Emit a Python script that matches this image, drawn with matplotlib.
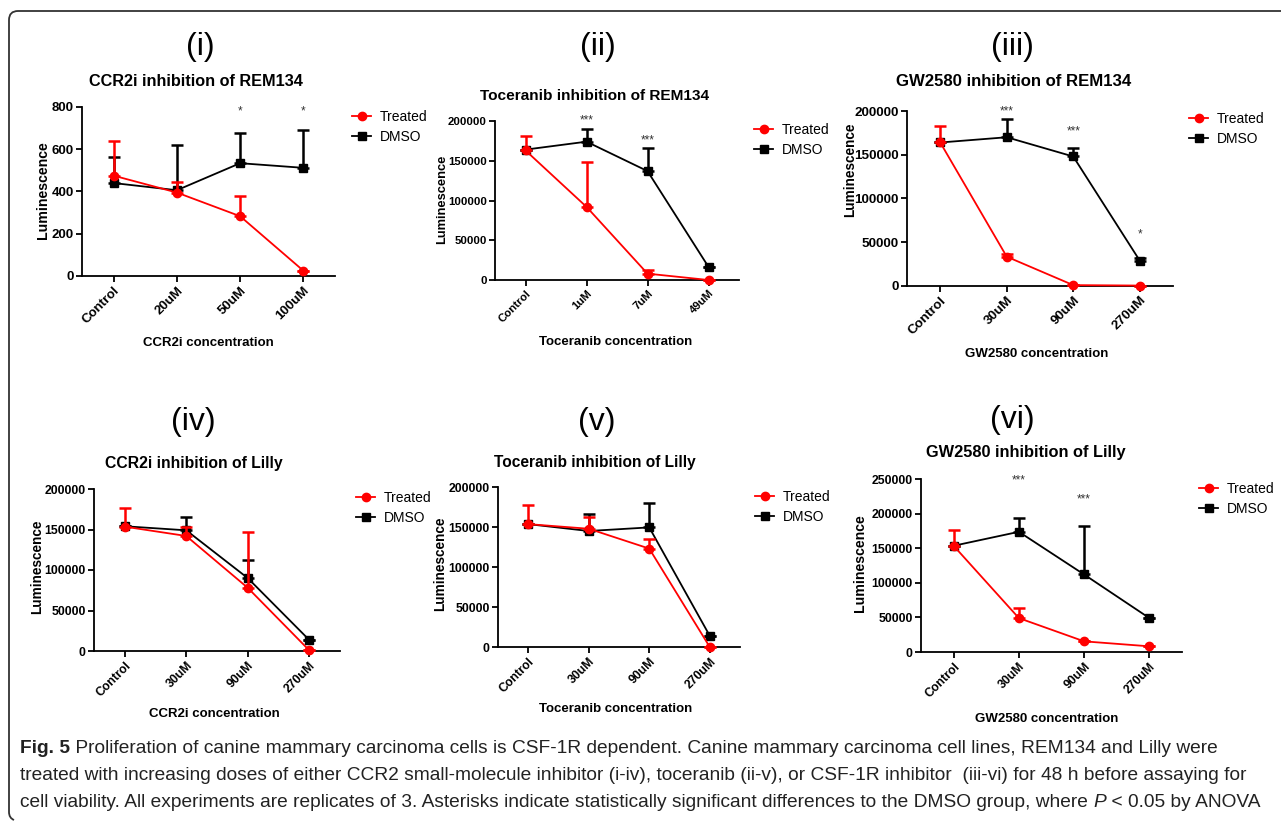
import numpy as np
import matplotlib
matplotlib.use("Agg")
import matplotlib.pyplot as plt
from matplotlib.lines import Line2D
from matplotlib.path import Path
import matplotlib.patches as mpatches

plt.rcParams["font.family"] = ["Liberation Sans", "DejaVu Sans"]

W, H = 1281, 821

# ---- data ----
cats_i = ["Control", "20uM", "50uM", "100uM"]
treated_i = [475, 395, 283, 25]
treated_sd_i = [165, 50, 97, 0]
dmso_i = [440, 406, 534, 512]
dmso_sd_i = [124, 213, 141, 180]
stars_i = ["", "", "*", "*"]
star_y_i = [0, 0, 780, 780]

cats_ii = ["Control", "1uM", "7uM", "49uM"]
treated_ii = [163000, 92000, 8000, 0]
treated_sd_ii = [18000, 56000, 5000, 0]
dmso_ii = [164000, 174000, 137000, 16500]
dmso_sd_ii = [0, 16000, 29500, 0]
stars_ii = ["", "***", "***", ""]
star_y_ii = [0, 201000, 176000, 0]

cats_iii = ["Control", "30uM", "90uM", "270uM"]
treated_iii = [164000, 33500, 1000, 500]
treated_sd_iii = [18500, 3000, 0, 0]
dmso_iii = [164000, 170000, 148000, 29000]
dmso_sd_iii = [0, 20500, 10000, 3000]
stars_iii = ["", "***", "***", "*"]
star_y_iii = [0, 200000, 177000, 59000]

cats_iv = ["Control", "30uM", "90uM", "270uM"]
treated_iv = [153500, 142000, 78000, 800]
treated_sd_iv = [22500, 10700, 68500, 0]
dmso_iv = [154000, 149000, 90000, 13600]
dmso_sd_iv = [0, 17000, 22000, 0]

cats_v = ["Control", "30uM", "90uM", "270uM"]
treated_v = [153600, 147800, 123000, 0]
treated_sd_v = [24000, 15000, 12000, 0]
dmso_v = [153600, 145000, 149500, 14000]
dmso_sd_v = [0, 20700, 30000, 0]

cats_vi = ["Control", "30uM", "90uM", "270uM"]
treated_vi = [153500, 49000, 15400, 8200]
treated_sd_vi = [22500, 15000, 0, 0]
dmso_vi = [153500, 173700, 112000, 49000]
dmso_sd_vi = [0, 19800, 70000, 0]
stars_vi = ["", "***", "***", ""]
star_y_vi = [0, 248500, 220600, 0]

fig = plt.figure(figsize=(W / 100, H / 100), dpi=100)


def fx(px):
    return px / W


def fy(py):
    return 1 - py / H


def panel(box, cats, tr, tr_sd, dm, dm_sd, yticks, numeral, num_xy, title, title_xy,
          xlabel, xlabel_xy, ylabel_xy, leg_xy, stars=None, star_y=None,
          tick_fs=8.8, title_fs=11.3, ylab_fs=9.8):
    left, right, top, bottom = box
    ax = fig.add_axes([fx(left), fy(bottom), fx(right - left), (bottom - top) / H])
    x = np.arange(len(cats))
    ax.errorbar(x, dm, yerr=[np.zeros(len(dm)), dm_sd], color="black", marker="s", ms=6,
                lw=1.3, elinewidth=1.8, capsize=4, capthick=1.8, clip_on=False, zorder=3)
    ax.errorbar(x, tr, yerr=[np.zeros(len(tr)), tr_sd], color="#ff0000", marker="o", ms=6,
                lw=1.3, elinewidth=1.8, capsize=4, capthick=1.8, clip_on=False, zorder=4)
    ax.set_xlim(-0.5, 3.5)
    ax.set_ylim(yticks[0], yticks[-1])
    ax.set_yticks(yticks)
    ax.set_yticklabels([str(t) for t in yticks], fontsize=tick_fs, fontweight="bold")
    ax.set_xticks(x)
    ax.set_xticklabels(cats, rotation=45, ha="right", rotation_mode="anchor",
                       fontsize=tick_fs, fontweight="bold")
    for s in ["top", "right"]:
        ax.spines[s].set_visible(False)
    for s in ["left", "bottom"]:
        ax.spines[s].set_linewidth(1.3)
    ax.tick_params(width=1.3, length=4, pad=2)
    ax.patch.set_alpha(0)
    if stars:
        for xi, s, sy in zip(x, stars, star_y):
            if s:
                ax.text(xi, sy, s, ha="center", va="center", fontsize=8.5, color="#333333",
                        clip_on=False)
    fig.text(fx(num_xy[0]), fy(num_xy[1]), numeral, ha="center", va="center", fontsize=23)
    fig.text(fx(title_xy[0]), fy(title_xy[1]), title, ha="center", va="center",
             fontsize=title_fs, fontweight="bold")
    fig.text(fx(xlabel_xy[0]), fy(xlabel_xy[1]), xlabel, ha="center", va="center",
             fontsize=9.5, fontweight="bold")
    fig.text(fx(ylabel_xy[0]), fy(ylabel_xy[1]), "Luminescence", ha="center", va="center",
             rotation=90, fontsize=ylab_fs, fontweight="bold")
    handles = [Line2D([], [], color="#ff0000", marker="o", ms=6, lw=1.3),
               Line2D([], [], color="black", marker="s", ms=6, lw=1.3)]
    ax.legend(handles, ["Treated", "DMSO"], loc="upper left",
              bbox_to_anchor=(fx(leg_xy[0]), fy(leg_xy[1])), bbox_transform=fig.transFigure,
              frameon=False, fontsize=10, handlelength=1.4, handletextpad=0.6,
              labelspacing=0.45, borderpad=0, borderaxespad=0)
    return ax


panel((82, 335, 107, 276), cats_i, treated_i, treated_sd_i, dmso_i, dmso_sd_i,
      [0, 200, 400, 600, 800], "(i)", (200, 47), "CCR2i inhibition of REM134", (196, 82),
      "CCR2i concentration", (208, 343), (43, 190), (352, 110), stars_i, star_y_i,
      tick_fs=9.5, title_fs=11.7, ylab_fs=10.2)

panel((495, 739, 121, 280), cats_ii, treated_ii, treated_sd_ii, dmso_ii, dmso_sd_ii,
      [0, 50000, 100000, 150000, 200000], "(ii)", (598, 47), "Toceranib inhibition of REM134",
      (595, 96), "Toceranib concentration", (616, 342), (442, 199), (754, 123),
      stars_ii, star_y_ii, tick_fs=8.2, title_fs=11.1, ylab_fs=9.3)

panel((907, 1173, 111, 286), cats_iii, treated_iii, treated_sd_iii, dmso_iii, dmso_sd_iii,
      [0, 50000, 100000, 150000, 200000], "(iii)", (1012, 47), "GW2580 inhibition of REM134",
      (1014, 82), "GW2580 concentration", (1037, 354), (850, 170), (1189, 112),
      stars_iii, star_y_iii, tick_fs=9.7, title_fs=12.1, ylab_fs=9.8)

panel((94, 340, 489, 651), cats_iv, treated_iv, treated_sd_iv, dmso_iv, dmso_sd_iv,
      [0, 50000, 100000, 150000, 200000], "(iv)", (193, 422), "CCR2i inhibition of Lilly",
      (194, 463), "CCR2i concentration", (214, 714), (37, 567), (356, 491),
      tick_fs=8.8, title_fs=11.3, ylab_fs=9.8)

panel((498, 740, 487, 647), cats_v, treated_v, treated_sd_v, dmso_v, dmso_sd_v,
      [0, 50000, 100000, 150000, 200000], "(v)", (597, 422), "Toceranib inhibition of Lilly",
      (595, 462), "Toceranib concentration", (616, 709), (440, 564), (755, 490),
      tick_fs=8.8, title_fs=11.2, ylab_fs=9.8)

panel((921, 1182, 479, 652), cats_vi, treated_vi, treated_sd_vi, dmso_vi, dmso_sd_vi,
      [0, 50000, 100000, 150000, 200000, 250000], "(vi)", (1012, 420),
      "GW2580 inhibition of Lilly", (1026, 452), "GW2580 concentration", (1047, 719),
      (860, 563), (1199, 482), stars_vi, star_y_vi,
      tick_fs=8.8, title_fs=11.8, ylab_fs=10.2)

# ---- frame: top line + left line with rounded corner ----
r = 9
verts = [(W, 11), (9 + r, 11), (9, 11), (9, 11 + r), (9, 812), (9, 818), (14, 820)]
codes = [Path.MOVETO, Path.LINETO, Path.CURVE3, Path.CURVE3, Path.LINETO, Path.CURVE3, Path.CURVE3]
verts = [(fx(a), fy(b)) for a, b in verts]
fig.add_artist(mpatches.PathPatch(Path(verts, codes), transform=fig.transFigure,
                                  fill=False, lw=1.3, edgecolor="#333333"))

# ---- caption ----
cap = fig.add_axes([0, 0, 1, 1])
cap.axis("off")
cap.set_xlim(0, W)
cap.set_ylim(H, 0)
cfam = ["Liberation Sans Narrow", "Liberation Sans", "DejaVu Sans"]
cfs = 12.2
ccol = "#222222"
t0 = cap.text(20, 757, "Fig. 5", fontsize=cfs, fontweight="bold", family=cfam, color=ccol,
              va="bottom", ha="left")
t1 = cap.annotate(" Proliferation of canine mammary carcinoma cells is CSF-1R dependent. Canine mammary "
                  "carcinoma cell lines, REM134 and Lilly were", xy=(1, 0), xycoords=t0,
                  va="bottom", ha="left", fontsize=cfs, family=cfam, color=ccol)
t2 = cap.text(20, 784, "treated with increasing doses of either CCR2 small-molecule inhibitor (i-iv), "
              "toceranib (ii-v), or CSF-1R inhibitor  (iii-vi) for 48 h before assaying for",
              fontsize=cfs, family=cfam, color=ccol, va="bottom", ha="left")
t3 = cap.text(20, 811, "cell viability. All experiments are replicates of 3. Asterisks indicate "
              "statistically significant differences to the DMSO group, where ",
              fontsize=cfs, family=cfam, color=ccol, va="bottom", ha="left")
t4 = cap.annotate("P", xy=(1, 0), xycoords=t3, va="bottom", ha="left", fontsize=cfs,
                  family=cfam, style="italic", color=ccol)
t5 = cap.annotate(" < 0.05 by ANOVA", xy=(1, 0), xycoords=t4, va="bottom", ha="left",
                  fontsize=cfs, family=cfam, color=ccol)

# scale the caption so line 2 spans the same width as in the figure
fig.canvas.draw()
w2 = t2.get_window_extent().width
scale = (1255 - 20) / w2
for t in [t0, t1, t2, t3, t4, t5]:
    t.set_fontsize(cfs * scale)

fig.savefig("out.png", dpi=100)
